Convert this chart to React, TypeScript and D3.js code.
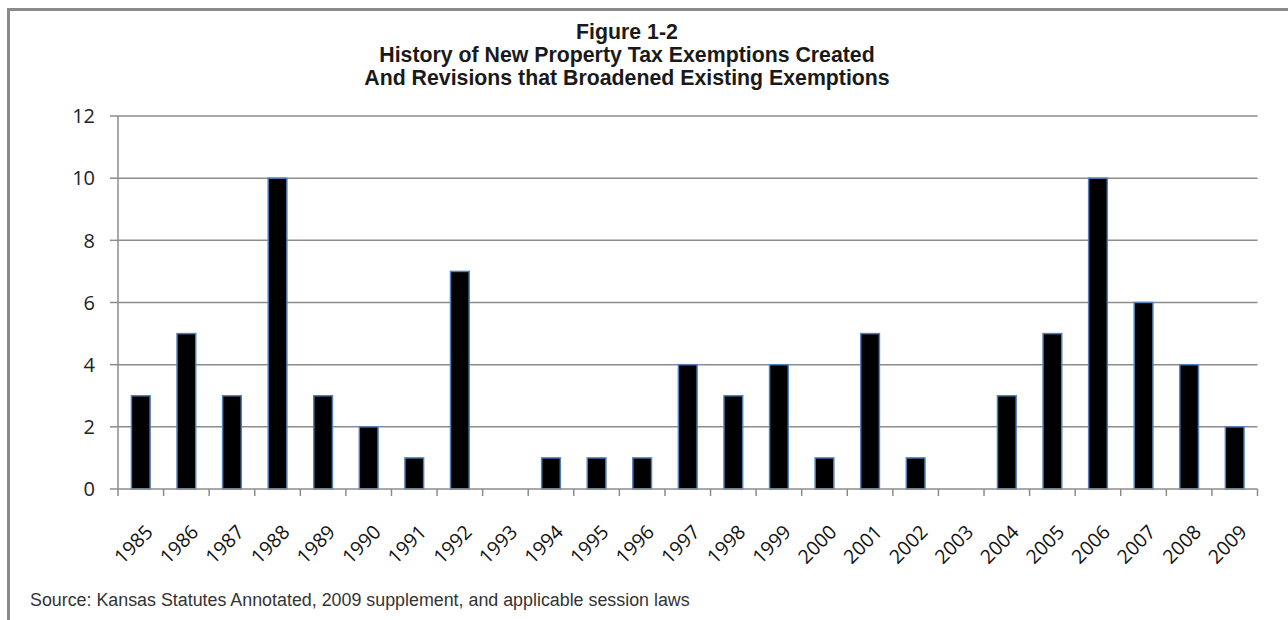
import React from "react";
import * as d3 from "d3";

const years = ["1985","1986","1987","1988","1989","1990","1991","1992","1993","1994","1995","1996","1997","1998","1999","2000","2001","2002","2003","2004","2005","2006","2007","2008","2009"];
const counts = [3,5,3,10,3,2,1,7,0,1,1,1,4,3,4,1,5,1,0,3,5,10,6,4,2];
const yTicks = [0,2,4,6,8,10,12];
const titleLines = ["Figure 1-2","History of New Property Tax Exemptions Created","And Revisions that Broadened Existing Exemptions"];
const sourceText = "Source: Kansas Statutes Annotated, 2009 supplement, and applicable session laws";

export default function App() {
  const W = 1288, H = 620;
  const left = 118, right = 1257.5, top = 116, bottom = 489;
  const x = d3.scaleBand<string>().domain(years).range([left, right]).paddingInner(0.59).paddingOuter(0.295);
  const xb = d3.scaleBand<string>().domain(years).range([left, right]);
  const y = d3.scaleLinear().domain([0, 12]).range([bottom, top]);
  const grid = "#8c8c8c";
  const labelFont = "'Open Sans', 'Liberation Sans', sans-serif";
  return (
    <svg width={W} height={H} style={{ position: "absolute", left: 0, top: 0, background: "#fff" }}>
      <rect x={8.5} y={9.5} width={W + 20} height={H + 20} fill="none" stroke="#8a8a8a" strokeWidth={3} />
      {titleLines.map((t, i) => (
        <text key={i} x={627} y={39 + i * 23} textAnchor="middle" fontFamily="'Liberation Sans', Arial, sans-serif" fontWeight="bold" fontSize={21.3} fill="#1a1a1a">{t}</text>
      ))}
      {yTicks.map((t) => (
        <g key={t}>
          {t > 0 && <line x1={left} x2={right} y1={y(t)} y2={y(t)} stroke={grid} strokeWidth={1.5} />}
          <line x1={left - 8} x2={left} y1={y(t)} y2={y(t)} stroke={grid} strokeWidth={1.5} />
          <text x={95} y={y(t)} dy="0.36em" textAnchor="end" fontFamily={labelFont} fontSize={20} fill="#222">{t}</text>
        </g>
      ))}
      <line x1={left} x2={left} y1={top} y2={bottom} stroke={grid} strokeWidth={1.5} />
      {years.map((yr, i) => (
        <rect key={yr} x={x(yr)!} y={y(counts[i])} width={x.bandwidth()} height={bottom - y(counts[i])} fill="#000" stroke="#4f81bd" strokeWidth={1.5} />
      ))}
      <line x1={left} x2={right} y1={bottom} y2={bottom} stroke={grid} strokeWidth={1.5} />
      {years.map((yr) => (
        <line key={yr} x1={xb(yr)!} x2={xb(yr)!} y1={bottom} y2={bottom + 7} stroke={grid} strokeWidth={1.5} />
      ))}
      <line x1={right} x2={right} y1={bottom} y2={bottom + 7} stroke={grid} strokeWidth={1.5} />
      {years.map((yr) => {
        const cx = xb(yr)! + xb.bandwidth() / 2 + 3;
        const cy = bottom + 34;
        return (
          <text key={yr} x={cx} y={cy} dy="0.75em" textAnchor="end" transform={`rotate(-45 ${cx} ${cy})`} fontFamily={labelFont} fontSize={19.5} fill="#111">{yr}</text>
        );
      })}
      <text x={30} y={606} fontFamily="'Liberation Sans', Arial, sans-serif" fontSize={17.85} fill="#333">{sourceText}</text>
    </svg>
  );
}
